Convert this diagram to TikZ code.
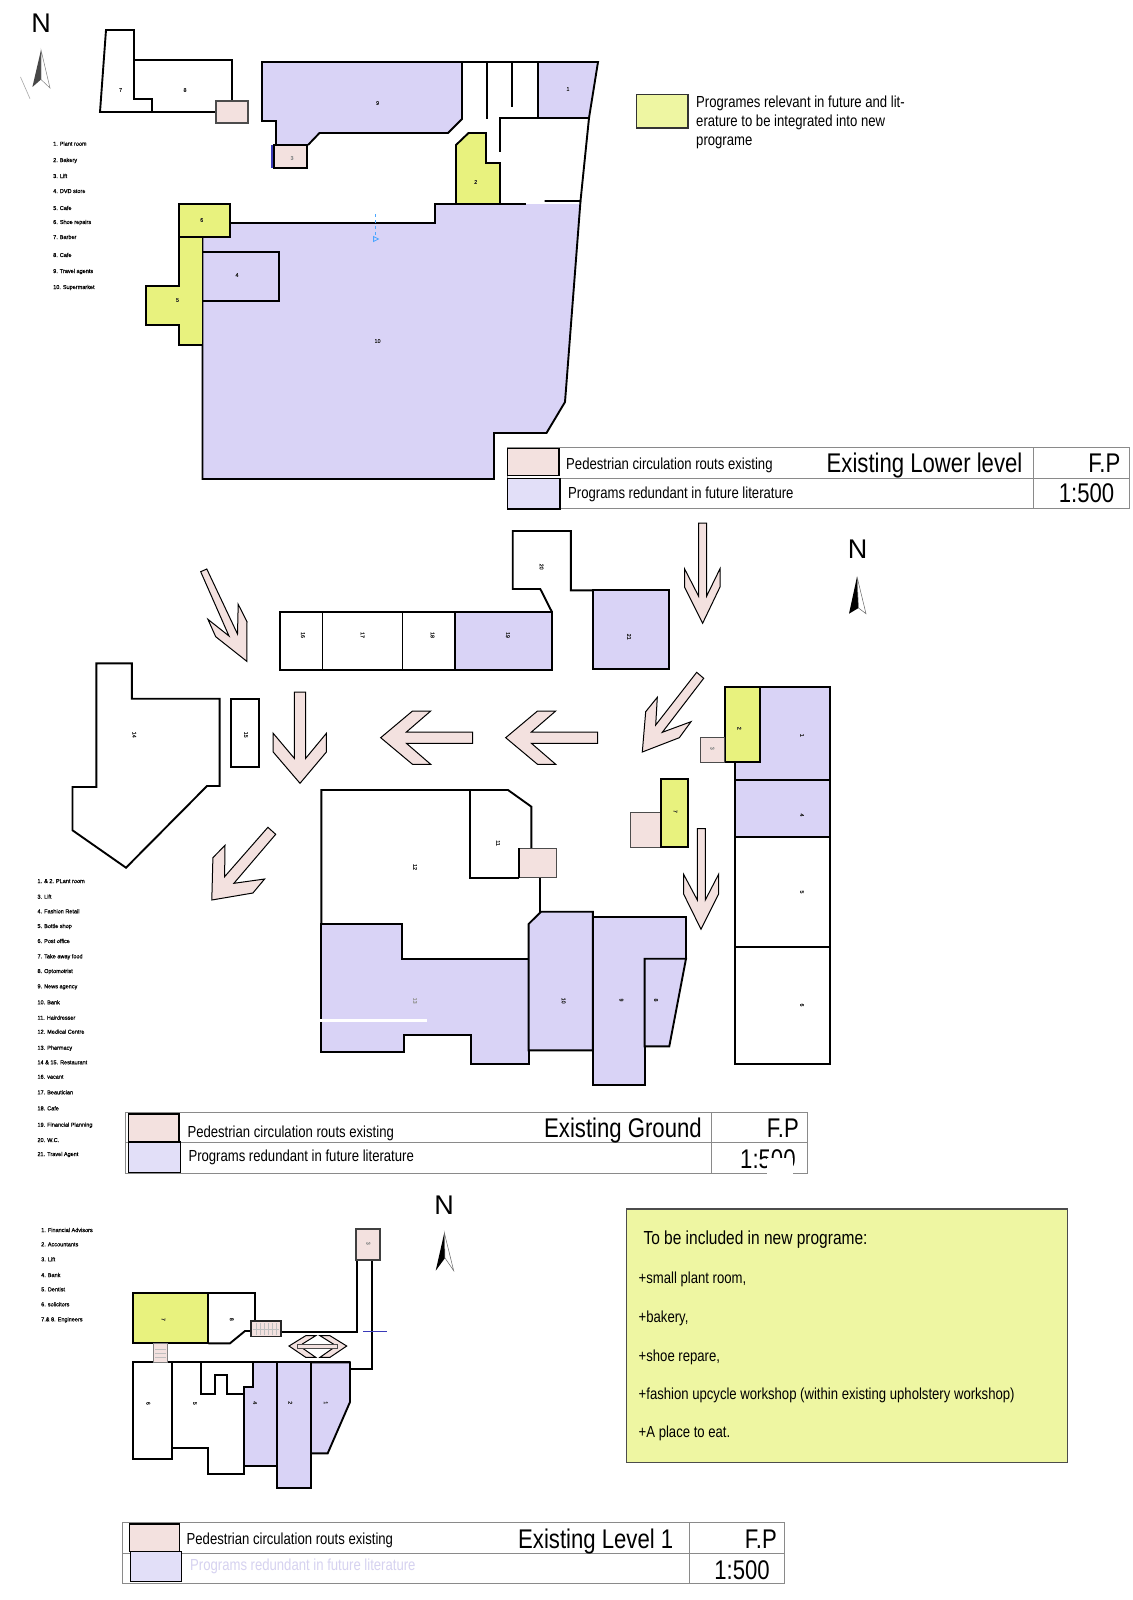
\documentclass[tikz,border=0pt]{standalone}
\usepackage{fontspec}
\setmainfont{Liberation Sans}
\newfontfamily\nar[FakeStretch=0.82]{Liberation Sans}
\newfontfamily\smallbold[FakeBold=0.45,FakeStretch=0.97]{Liberation Sans}
\newcommand\tsmall{\fontsize{16}{16}\selectfont\nar}
\newcommand\tmid{\fontsize{18.9}{19}\selectfont\nar}
\newcommand\tbig{\fontsize{27}{27}\selectfont\nar}
\newcommand\tlist{\fontsize{5.7}{6}\selectfont\smallbold}
\newcommand\troom{\fontsize{5.5}{6}\selectfont\smallbold}
\definecolor{pur}{HTML}{D9D3F6}
\definecolor{legpur}{HTML}{E2DFF8}
\definecolor{fadetxt}{HTML}{D6D2F0}
\definecolor{pnk}{HTML}{F3E1DF}
\definecolor{grn}{HTML}{E8F27E}
\definecolor{notegrn}{HTML}{EEF6A2}
\definecolor{legline}{HTML}{8A8A8A}
\definecolor{bluemark}{HTML}{3A3AB8}
\tikzset{
  x=1pt,y=-1pt,
  room/.style={draw=black,line width=1.9pt,line join=miter},
  wall/.style={draw=black,line width=1.9pt},
  purple room/.style={room,fill=pur},
  green room/.style={room,fill=grn},
  lift room/.style={draw=black,line width=1.5pt,fill=pnk},
  flow arrow/.style={draw=black,line width=1pt,fill=pnk,line join=miter},
  swatch pink/.style={draw=black,line width=1.1pt,fill=pnk},
  swatch purple/.style={draw=black,line width=1.1pt,fill=legpur},
  table line/.style={draw=legline,line width=1pt},
  lst/.style={anchor=base west,inner sep=0pt,font=\tlist},
  lab/.style={inner sep=0pt,font=\troom,text=black!85},
  vlab/.style={lab,rotate=-90},
  txt/.style={anchor=base west,inner sep=0pt,font=\tsmall},
  txtmid/.style={anchor=base west,inner sep=0pt,font=\tmid},
  title/.style={anchor=base west,inner sep=0pt,font=\tbig},
  titler/.style={anchor=base east,inner sep=0pt,font=\tbig},
  northN/.style={inner sep=0pt,font=\fontsize{27}{27}\selectfont},
}
\begin{document}
\begin{tikzpicture}
\useasboundingbox (0,0) rectangle (1132,1600);
\fill[white] (0,0) rectangle (1132,1600);

%% ---------- LOWER LEVEL ----------
\node[northN] (nA) at (41,23) {N};
\fill[black!72] (41,50) -- (32.4,87) -- (41,79.5) -- cycle;
\draw[black!50,line width=0.5pt,fill=white] (41,50) -- (41,79.5) -- (50,88) -- cycle;
\draw[black!35,line width=0.6pt] (20.5,77) -- (30,98.7);

\node[lst] (a1) at (53,145.7) {1. Plant room};
\node[lst] (a2) at (53,162) {2. Bakery};
\node[lst] (a3) at (53,178) {3. Lift};
\node[lst] (a4) at (53,193) {4. DVD store};
\node[lst] (a5) at (53,210) {5. Cafe};
\node[lst] (a6) at (53,224) {6. Shoe repairs};
\node[lst] (a7) at (53,239) {7. Barber};
\node[lst] (a8) at (53,257) {8. Cafe};
\node[lst] (a9) at (53,273) {9. Travel agents};
\node[lst] (a10) at (53,289) {10. Supermarket};

\draw[room] (106,30) -- (134,30) -- (134,99) -- (152,99) -- (152,112) -- (100,112) -- cycle;
\draw[wall] (134,60) -- (232,60) -- (232,101);
\draw[wall] (152,112) -- (216,112);
\draw[draw=black!70,line width=1.2pt,fill=pnk] (216,101) rectangle (248,123);

\path[fill=pur] (262,62) -- (462,62) -- (462,119) -- (448,133) -- (319.5,133) -- (308,145) -- (276,145) -- (276,121) -- (262,121) -- cycle;
\draw[wall] (276,145) -- (276,121) -- (262,121) -- (262,62) -- (598,62);
\draw[wall] (462,62) -- (462,119) -- (448,133) -- (319.5,133) -- (308,145);
\draw[lift room] (274,145) rectangle (307,168);
\draw[bluemark,line width=1.2pt] (272,145) -- (272,168);

\draw[purple room] (538,62) -- (598,62) -- (589,118) -- (538,118) -- cycle;
\draw[wall] (487,62) -- (487,119);
\draw[wall] (512,62) -- (512,107);
\draw[wall] (589,118) -- (500,118) -- (500,152);
\draw[wall] (589,118) -- (580.5,201) -- (544.5,201);

\path[fill=pur] (230,223) -- (435,223) -- (435,204) -- (580.5,204) -- (565,402) -- (546.5,433) -- (494,433) -- (494,479) -- (202.5,479) -- (202.5,237) -- (230,237) -- cycle;
\draw[wall] (230,223) -- (435,223) -- (435,204) -- (526,204);
\draw[wall] (580.5,201) -- (565,402) -- (546.5,433) -- (494,433) -- (494,479) -- (202.5,479) -- (202.5,237);
\draw[green room] (456,204) -- (456,145) -- (468.5,133) -- (486,133) -- (486,163) -- (500,163) -- (500,204) -- cycle;
\draw[green room] (179,237) -- (202.5,237) -- (202.5,345) -- (179,345) -- (179,325) -- (146,325) -- (146,286) -- (179,286) -- cycle;
\draw[green room] (179,204) rectangle (230,237);
\draw[room] (202.5,252) -- (279,252) -- (279,301) -- (202.5,301);

\draw[blue!50!cyan!70,line width=0.8pt,dashed] (375.6,214) -- (375.6,236);
\draw[blue!50!cyan!70,line width=0.8pt] (373.6,236.5) -- (378.5,239) -- (373.6,241.5) -- cycle;

\node[lab] (r7) at (120.6,90) {7};
\node[lab] (r8) at (185,90) {8};
\node[lab] (r9) at (377.6,103) {9};
\node[lab] (r1) at (568,89) {1};
\node[lab,text=black!45] (r3) at (292,158) {3};
\node[lab] (r2) at (475.7,182) {2};
\node[lab] (r6) at (201.7,220) {6};
\node[lab] (r4) at (237,275) {4};
\node[lab] (r5) at (177.5,300) {5};
\node[lab] (r10) at (377.6,341) {10};

%% legend lower level
\draw[table line] (507.7,447.3) rectangle (1129.5,508.7);
\draw[table line] (507.7,478) -- (1129.5,478);
\draw[table line] (1033,447.3) -- (1033,508.7);
\draw[swatch pink] (507.7,448.3) rectangle (559,475.3);
\draw[swatch purple] (507.7,478.7) rectangle (560,509);
\node[txt] (la1) at (566,469.3) {Pedestrian circulation routs existing};
\node[txt] (la2) at (568,498) {Programs redundant in future literature};
\node[title] (la3) at (826.5,472.3) {Existing Lower level};
\node[titler] (la4) at (1120.5,472.3) {F.P};
\node[titler] (la5) at (1114.5,502.7) {1:500};

%% key
\draw[draw=black!80,line width=1.1pt,fill=notegrn] (636.7,94.7) rectangle (688,128);
\node[txt] (k1) at (696,107.6) {Programes relevant in future and lit-};
\node[txt] (k2) at (696,127) {erature to be integrated into new};
\node[txt] (k3) at (696,146) {programe};

%% ---------- GROUND ----------
\node[northN] (nB) at (857.5,549) {N};
\fill[black] (857,576.7) -- (849,613.7) -- (858.5,608) -- cycle;
\draw[black!60,line width=0.5pt,fill=white] (857,576.7) -- (858.5,608) -- (866,613.7) -- cycle;

\node[lst] (b1) at (37.3,883) {1. \& 2.  PLant room};
\node[lst] (b3) at (37.3,898.7) {3. Lift};
\node[lst] (b4) at (37.3,913.3) {4. Fashion Retail};
\node[lst] (b5) at (37.3,928) {5. Bottle shop};
\node[lst] (b6) at (37.3,943) {6. Post office};
\node[lst] (b7) at (37.3,958.3) {7. Take away food};
\node[lst] (b8) at (37.3,973) {8. Optomotrist};
\node[lst] (b9) at (37.3,988.3) {9. News agency};
\node[lst] (b10) at (37.3,1004.3) {10. Bank};
\node[lst] (b11) at (37.3,1019.7) {11. Hairdresser};
\node[lst] (b12) at (37.3,1033.7) {12. Medical Centre};
\node[lst] (b13) at (37.3,1049.7) {13. Pharmacy};
\node[lst] (b14) at (37.3,1064.3) {14 \& 15. Restaurant};
\node[lst] (b16) at (37.3,1078.7) {16. vacant};
\node[lst] (b17) at (37.3,1094.3) {17. Beautician};
\node[lst] (b18) at (37.3,1110.3) {18. Cafe};
\node[lst] (b19) at (37.3,1126.7) {19.  Financial Planning};
\node[lst] (b20) at (37.3,1142) {20. W.C.};
\node[lst] (b21) at (37.3,1156) {21. Travel Agent};

% top row
\draw[room] (280,612.3) rectangle (322.5,669.7);
\draw[room] (322.5,612.3) rectangle (402.5,669.7);
\draw[room] (402.5,612.3) rectangle (455,669.7);
\draw[purple room] (455,612.3) rectangle (552.1,669.7);
\draw[wall] (552.1,612.3) -- (540.3,589) -- (512.7,589) -- (512.7,531) -- (570.8,531) -- (570.8,590.3) -- (593,590.3);
\draw[purple room] (593,590.3) rectangle (669.2,669.3);

% 14, 15
\draw[room] (96.4,663.3) -- (131.8,663.3) -- (131.8,698.7) -- (219.6,698.7) -- (219.6,786) -- (207,786) -- (126,867.7) -- (72.5,830.3) -- (72.5,787) -- (96.4,787) -- cycle;
\draw[room] (230.7,699.3) rectangle (258.6,766.7);

% right column
\draw[purple room] (760,687.3) -- (830,687.3) -- (830,780) -- (735.3,780) -- (735.3,762.3) -- (760,762.3) -- cycle;
\draw[green room] (724.7,687.3) rectangle (760,762.3);
\draw[draw=black!70,line width=1.5pt,fill=pnk] (700.7,737.3) rectangle (724.7,762.3);
\draw[purple room] (735.3,780) rectangle (830,837);
\draw[room] (735.3,837) rectangle (830,946.7);
\draw[room] (735.3,946.7) rectangle (830,1063.7);

% take-away
\draw[draw=black!70,line width=1pt,fill=pnk] (630.7,812) rectangle (660.7,847);
\draw[green room] (660.7,779.3) rectangle (688,847);

% central block
\draw[wall] (321.4,924) -- (321.4,790) -- (508,790) -- (531.4,806.7) -- (531.4,848.3);
\draw[wall] (470,790) -- (470,877.7) -- (519,877.7);
\draw[wall] (540,877.7) -- (540,911.7);
\draw[purple room] (321.4,924) -- (402,924) -- (402,958.7) -- (528.6,958.7) -- (528.6,1063.7) -- (470.7,1063.7) -- (470.7,1035) -- (404,1035) -- (404,1051.7) -- (321.4,1051.7) -- cycle;
\draw[purple room] (592.9,917) -- (686,917) -- (686,958.7) -- (644.6,958.7) -- (644.6,1085.3) -- (592.9,1085.3) -- cycle;
\draw[purple room] (644.6,958.7) -- (686,958.7) -- (669.3,1046.3) -- (644.6,1046.3) -- cycle;
\draw[purple room] (541,911.7) -- (592.9,911.7) -- (592.9,1050.3) -- (528.6,1050.3) -- (528.6,924) -- cycle;
\draw[draw=black!70,line width=1pt,fill=pnk] (519,848.3) rectangle (556.4,877.7);
\draw[black,line width=1.8pt] (519,848.3) -- (519,877.7);
\draw[white,line width=3pt] (320.4,1020.7) -- (427,1020.7);

% flow arrows
\draw[flow arrow] (698.5,523) -- (698.5,596) -- (684.5,568.7) -- (684.5,587) -- (702.6,623.3) -- (720,587) -- (720,568.7) -- (706.7,596) -- (706.7,523) -- cycle;
\draw[flow arrow] (697.3,828.7) -- (697.3,900) -- (683.6,874.3) -- (683.6,894) -- (701,929.3) -- (718.6,894) -- (718.6,874.3) -- (705.3,900) -- (705.3,828.7) -- cycle;
\draw[flow arrow] (200.7,571.7) -- (206.8,569) -- (237.5,634) -- (238.2,604.3) -- (247,621.7) -- (246.8,661.3) -- (215.7,636.7) -- (207.9,619.3) -- (229,636) -- cycle;
\draw[flow arrow] (294.3,692) -- (294.3,758.3) -- (273.2,733.3) -- (273.2,752) -- (300,783.3) -- (326.4,752) -- (326.4,733.3) -- (305.7,758.3) -- (305.7,692) -- cycle;
\draw[flow arrow] (380.7,737.7) -- (412.5,711) -- (430.7,711) -- (406.4,732) -- (472.5,732) -- (472.5,743.3) -- (406.4,743.3) -- (430.7,764.3) -- (412.5,764.3) -- cycle;
\draw[flow arrow] (505.7,737.7) -- (537.5,711) -- (555.7,711) -- (531.4,732) -- (597.5,732) -- (597.5,743.3) -- (531.4,743.3) -- (555.7,764.3) -- (537.5,764.3) -- cycle;
\draw[flow arrow] (267.9,827.3) -- (275.7,834.3) -- (233.9,883.3) -- (264.6,879) -- (252.9,893) -- (211.8,900) -- (212.9,857.7) -- (225,845.3) -- (224.6,876.7) -- cycle;
\draw[flow arrow] (696.7,672.3) -- (703.7,678.3) -- (662.3,732.3) -- (691,721.7) -- (679.3,737.7) -- (642.3,752) -- (645.7,711.7) -- (657.3,697.3) -- (655.7,725) -- cycle;

\node[vlab] (g20) at (541.5,566.7) {20};
\node[vlab] (g21) at (629,636.7) {21};
\node[vlab] (g16) at (302.9,635) {16};
\node[vlab] (g17) at (362.5,635) {17};
\node[vlab] (g18) at (432.5,635) {18};
\node[vlab] (g19) at (507.9,635) {19};
\node[vlab] (g14) at (134.3,734.7) {14};
\node[vlab] (g15) at (246,734.7) {15};
\node[vlab,text=black!45] (g3) at (712.3,748.3) {3};
\node[vlab] (g2) at (739.3,728.3) {2};
\node[vlab] (g1) at (802,735.3) {1};
\node[vlab] (g4) at (802,815) {4};
\node[vlab] (g5) at (802,892) {5};
\node[vlab] (g6) at (802,1005) {6};
\node[vlab] (g7) at (675.3,811.3) {7};
\node[vlab] (g11) at (498,843) {11};
\node[vlab] (g12) at (415,867) {12};
\node[vlab,text=black!40] (g13) at (415,1000.7) {13};
\node[vlab] (g10) at (563.6,1000.7) {10};
\node[vlab] (g9) at (621.4,1000) {9};
\node[vlab] (g8) at (656,1000) {8};

%% legend ground
\draw[table line] (125.7,1112.3) rectangle (807,1173.3);
\draw[table line] (125.7,1142.3) -- (807,1142.3);
\draw[table line] (711.6,1112.3) -- (711.6,1173.3);
\draw[swatch pink] (128.7,1114) rectangle (179,1141.7);
\draw[swatch purple] (128.7,1142) rectangle (180.3,1172.7);
\node[txt] (lb1) at (187.3,1137.3) {Pedestrian circulation routs existing};
\node[txt] (lb2) at (188.3,1161) {Programs redundant in future literature};
\node[title] (lb3) at (544,1137.3) {Existing Ground};
\node[titler] (lb4) at (799,1137.3) {F.P};
\node[title] (lb5) at (740,1168.3) {1:500};
\fill[white] (767,1157.5) rectangle (793,1178);

%% ---------- LEVEL 1 ----------
\node[northN] (nC) at (444,1205) {N};
\fill[black] (444.3,1232.7) -- (435.7,1270.7) -- (445,1258) -- cycle;
\draw[black!60,line width=0.5pt,fill=white] (444.3,1232.7) -- (445,1258) -- (453.7,1270.7) -- cycle;

\node[lst] (c1) at (41,1232) {1. Financial Advisors};
\node[lst] (c2) at (41,1246.3) {2.  Accountants};
\node[lst] (c3) at (41,1261.3) {3.  Lift};
\node[lst] (c4) at (41,1277) {4. Bank};
\node[lst] (c5) at (41,1291.3) {5. Dentist};
\node[lst] (c6) at (41,1306.3) {6. solicitors};
\node[lst] (c7) at (41,1321.3) {7.\& 8. Engineers};

\draw[wall] (356.7,1259.7) -- (356.7,1332.3) -- (281,1332.3);
\draw[wall] (372,1259.7) -- (372,1369.3) -- (350,1369.3);
\draw[bluemark,line width=1pt] (363.3,1331) -- (386.7,1331);
\draw[draw=black!75,line width=2pt,fill=pnk] (355.7,1229) rectangle (379.7,1259.7);

\draw[green room] (132.7,1292.7) rectangle (208.3,1343.3);
\draw[wall] (208.3,1292.7) -- (255,1292.7) -- (255,1321.7);
\draw[wall] (208.3,1343.3) -- (230,1343.3) -- (245,1331) -- (252,1331);

\draw[wall] (132.7,1362.3) -- (350,1362.3);
\draw[room] (132.7,1362.3) rectangle (172,1459.3);
\draw[wall] (172,1447.7) -- (207.7,1447.7) -- (207.7,1474.3) -- (244,1474.3) -- (244,1466);
\draw[wall] (200.7,1362.3) -- (200.7,1394) -- (215,1394) -- (215,1375.3) -- (226.7,1375.3) -- (226.7,1394) -- (244,1394);
\draw[purple room] (252.7,1362.3) -- (276.7,1362.3) -- (276.7,1466) -- (244,1466) -- (244,1386.7) -- (252.7,1386.7) -- cycle;
\draw[purple room] (276.7,1362.3) rectangle (311,1488.3);
\draw[purple room] (311,1362.3) -- (350,1362.3) -- (350,1402) -- (327.7,1453.3) -- (311,1453.3) -- cycle;

\draw[draw=black!85,line width=1.2pt,fill=pnk] (251,1321) rectangle (281,1336.3);
\foreach \sx in {256,260,264,268,272,276}{\draw[black!25,line width=0.4pt] (\sx,1323) -- (\sx,1335);}
\draw[black!25,line width=0.4pt] (253,1329) -- (279,1329);
\draw[draw=black!50,line width=0.8pt,fill=pnk] (153.3,1343.7) rectangle (167.3,1362.7);
\foreach \sy in {1349,1353,1357}{\draw[black!25,line width=0.4pt] (155,\sy) -- (166,\sy);}

\draw[flow arrow] (289,1346) -- (305.7,1335.7) -- (315.7,1335.7) -- (302.3,1344) -- (302.3,1348) -- (315.7,1357.3) -- (305.7,1357.3) -- cycle;
\draw[flow arrow] (346.7,1346) -- (330,1335.7) -- (320,1335.7) -- (333.3,1344) -- (333.3,1348) -- (320,1357.3) -- (330,1357.3) -- cycle;
\draw[draw=black!70,line width=1pt,fill=pnk] (297.7,1344) rectangle (337.7,1348.7);

\node[vlab,text=black!45] (u3) at (368.3,1243.3) {3};
\node[vlab] (u7) at (163.3,1319.3) {7};
\node[vlab] (u8) at (231.7,1319.3) {8};
\node[vlab] (u6) at (148.3,1403.3) {6};
\node[vlab] (u5) at (195,1403.3) {5};
\node[vlab] (u4) at (255,1402.7) {4};
\node[vlab] (u2) at (290.3,1402.7) {2};
\node[vlab] (u1) at (325.7,1402.7) {1};

%% legend level 1
\draw[table line] (122.3,1522.7) rectangle (784,1583.7);
\draw[table line] (122.3,1553.3) -- (784,1553.3);
\draw[table line] (689.5,1522.7) -- (689.5,1583.7);
\draw[swatch pink] (129.4,1524) rectangle (179.5,1551.7);
\draw[swatch purple] (130.2,1551.7) rectangle (181.3,1581.7);
\node[txt] (lc1) at (186.5,1544.3) {Pedestrian circulation routs existing};
\node[txt,text=fadetxt] (lc2) at (190,1570.7) {Programs redundant in future literature};
\node[title] (lc3) at (518,1548.7) {Existing Level 1};
\node[titler] (lc4) at (777,1548.7) {F.P};
\node[titler] (lc5) at (770,1579) {1:500};

%% programme panel
\draw[draw=black!70,line width=1.2pt,fill=notegrn] (626.7,1209) rectangle (1067.3,1462.3);
\node[txtmid] (p0) at (643.3,1244) {To be included in new programe:};
\node[txt] (p1) at (638.5,1283) {+small plant room,};
\node[txt] (p2) at (638.5,1322) {+bakery,};
\node[txt] (p3) at (638.5,1361) {+shoe repare,};
\node[txt] (p4) at (638.5,1399) {+fashion upcycle workshop (within existing upholstery workshop)};
\node[txt] (p5) at (638.5,1437.5) {+A place to eat.};
\end{tikzpicture}
\end{document}
